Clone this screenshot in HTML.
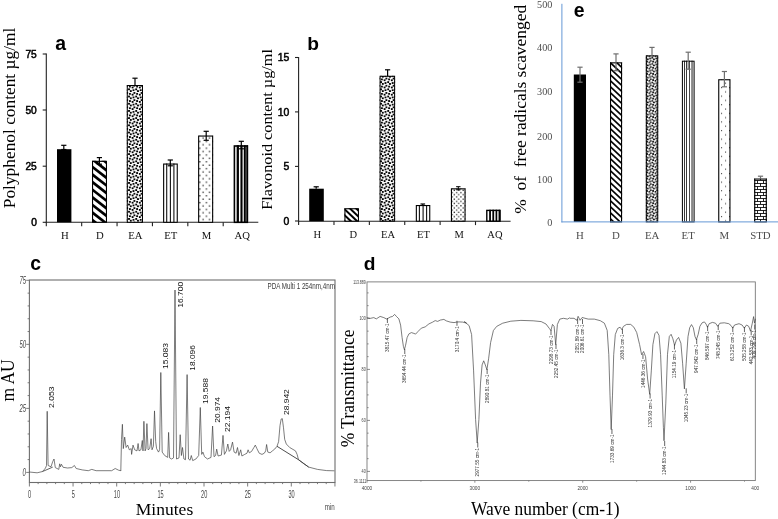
<!DOCTYPE html>
<html><head><meta charset="utf-8"><title>Figure</title>
<style>html,body{margin:0;padding:0;background:#fff;}svg{display:block;filter:blur(0.45px);}</style></head>
<body>
<svg width="778" height="519" viewBox="0 0 778 519">
<rect width="778" height="519" fill="#fff"/>
<defs>
<pattern id="pEA" patternUnits="userSpaceOnUse" width="7.200" height="7.200" patternTransform="translate(0.3,0.2)"><rect width="7.200" height="7.200" fill="#fff"/><rect x="1.72" y="-0.08" width="1.96" height="1.96" rx="0.45" fill="#000"/><rect x="1.72" y="7.12" width="1.96" height="1.96" rx="0.45" fill="#000"/><rect x="-1.88" y="1.72" width="1.96" height="1.96" rx="0.45" fill="#000"/><rect x="5.32" y="1.72" width="1.96" height="1.96" rx="0.45" fill="#000"/><rect x="2.62" y="2.62" width="1.96" height="1.96" rx="0.45" fill="#000"/><rect x="-0.08" y="3.52" width="1.96" height="1.96" rx="0.45" fill="#000"/><rect x="7.12" y="3.52" width="1.96" height="1.96" rx="0.45" fill="#000"/><rect x="3.52" y="-1.88" width="1.96" height="1.96" rx="0.45" fill="#000"/><rect x="3.52" y="5.32" width="1.96" height="1.96" rx="0.45" fill="#000"/><rect x="-0.98" y="-0.98" width="1.96" height="1.96" rx="0.45" fill="#000"/><rect x="-0.98" y="6.22" width="1.96" height="1.96" rx="0.45" fill="#000"/><rect x="6.22" y="-0.98" width="1.96" height="1.96" rx="0.45" fill="#000"/><rect x="6.22" y="6.22" width="1.96" height="1.96" rx="0.45" fill="#000"/></pattern>
<pattern id="pEA2" patternUnits="userSpaceOnUse" width="6.160" height="6.160" patternTransform="translate(0.2,0)"><rect width="6.160" height="6.160" fill="#fff"/><rect x="1.44" y="-0.10" width="1.73" height="1.73" rx="0.39" fill="#000"/><rect x="1.44" y="6.06" width="1.73" height="1.73" rx="0.39" fill="#000"/><rect x="-1.64" y="1.44" width="1.73" height="1.73" rx="0.39" fill="#000"/><rect x="4.52" y="1.44" width="1.73" height="1.73" rx="0.39" fill="#000"/><rect x="2.21" y="2.21" width="1.73" height="1.73" rx="0.39" fill="#000"/><rect x="-0.10" y="2.98" width="1.73" height="1.73" rx="0.39" fill="#000"/><rect x="6.06" y="2.98" width="1.73" height="1.73" rx="0.39" fill="#000"/><rect x="2.98" y="-1.64" width="1.73" height="1.73" rx="0.39" fill="#000"/><rect x="2.98" y="4.52" width="1.73" height="1.73" rx="0.39" fill="#000"/><rect x="-0.87" y="-0.87" width="1.73" height="1.73" rx="0.39" fill="#000"/><rect x="-0.87" y="5.29" width="1.73" height="1.73" rx="0.39" fill="#000"/><rect x="5.29" y="-0.87" width="1.73" height="1.73" rx="0.39" fill="#000"/><rect x="5.29" y="5.29" width="1.73" height="1.73" rx="0.39" fill="#000"/></pattern>
<pattern id="pM" patternUnits="userSpaceOnUse" width="6.5" height="6.8" patternTransform="translate(0.4,0.8)"><rect width="6.5" height="6.8" fill="#fff"/><rect x="0.5" y="0.5" width="1.4" height="1.4" fill="#444"/><rect x="3.75" y="3.9" width="1.4" height="1.4" fill="#444"/></pattern>
<pattern id="pM2" patternUnits="userSpaceOnUse" width="8" height="8.6"><rect width="8" height="8.6" fill="#fff"/><rect x="1" y="1" width="1.1" height="1.1" fill="#444"/><rect x="5" y="5.3" width="1.1" height="1.1" fill="#444"/></pattern>
<pattern id="pM3" patternUnits="userSpaceOnUse" width="4.4" height="4.4"><rect width="4.4" height="4.4" fill="#fff"/><rect x="0.5" y="0.5" width="1.3" height="1.3" fill="#333"/><rect x="2.7" y="2.7" width="1.3" height="1.3" fill="#333"/></pattern>
<pattern id="pBR" patternUnits="userSpaceOnUse" width="6" height="6"><rect width="6" height="6" fill="#fff"/><path d="M0 0.5H6M0 3.5H6M1.5 0.5V3.5M4.5 3.5V6.5" stroke="#000" stroke-width="0.85" fill="none"/></pattern>
</defs>
<line x1="46.30" y1="53.50" x2="46.30" y2="222.80" stroke="#222" stroke-width="1.1" />
<line x1="45.80" y1="222.30" x2="258.30" y2="222.30" stroke="#222" stroke-width="1.1" />
<line x1="42.70" y1="54.00" x2="46.30" y2="54.00" stroke="#222" stroke-width="1.1" />
<text x="36.80" y="57.70" font-size="10.2" font-family="Liberation Sans, sans-serif" text-anchor="end" fill="#000" font-weight="normal" stroke="#000" stroke-width="0.5">75</text>
<line x1="42.70" y1="110.00" x2="46.30" y2="110.00" stroke="#222" stroke-width="1.1" />
<text x="36.80" y="113.70" font-size="10.2" font-family="Liberation Sans, sans-serif" text-anchor="end" fill="#000" font-weight="normal" stroke="#000" stroke-width="0.5">50</text>
<line x1="42.70" y1="166.20" x2="46.30" y2="166.20" stroke="#222" stroke-width="1.1" />
<text x="36.80" y="169.90" font-size="10.2" font-family="Liberation Sans, sans-serif" text-anchor="end" fill="#000" font-weight="normal" stroke="#000" stroke-width="0.5">25</text>
<line x1="42.70" y1="222.30" x2="46.30" y2="222.30" stroke="#222" stroke-width="1.1" />
<text x="36.80" y="226.00" font-size="10.2" font-family="Liberation Sans, sans-serif" text-anchor="end" fill="#000" font-weight="normal" stroke="#000" stroke-width="0.5">0</text>
<line x1="46.30" y1="222.30" x2="46.30" y2="226.20" stroke="#222" stroke-width="1.1" />
<line x1="81.68" y1="222.30" x2="81.68" y2="226.20" stroke="#222" stroke-width="1.1" />
<line x1="117.06" y1="222.30" x2="117.06" y2="226.20" stroke="#222" stroke-width="1.1" />
<line x1="152.44" y1="222.30" x2="152.44" y2="226.20" stroke="#222" stroke-width="1.1" />
<line x1="187.82" y1="222.30" x2="187.82" y2="226.20" stroke="#222" stroke-width="1.1" />
<line x1="223.20" y1="222.30" x2="223.20" y2="226.20" stroke="#222" stroke-width="1.1" />
<text x="64.80" y="239.20" font-size="10.7" font-family="Liberation Serif, serif" text-anchor="middle" fill="#111" font-weight="normal" >H</text>
<text x="99.90" y="239.20" font-size="10.7" font-family="Liberation Serif, serif" text-anchor="middle" fill="#111" font-weight="normal" >D</text>
<text x="135.30" y="239.20" font-size="10.7" font-family="Liberation Serif, serif" text-anchor="middle" fill="#111" font-weight="normal" >EA</text>
<text x="170.70" y="239.20" font-size="10.7" font-family="Liberation Serif, serif" text-anchor="middle" fill="#111" font-weight="normal" >ET</text>
<text x="206.40" y="239.20" font-size="10.7" font-family="Liberation Serif, serif" text-anchor="middle" fill="#111" font-weight="normal" >M</text>
<text x="242.20" y="239.20" font-size="10.7" font-family="Liberation Serif, serif" text-anchor="middle" fill="#111" font-weight="normal" >AQ</text>
<rect x="57.00" y="149.20" width="14.40" height="73.10" fill="#000"/>
<line x1="63.80" y1="145.30" x2="63.80" y2="149.50" stroke="#000" stroke-width="1.2" />
<line x1="61.20" y1="145.30" x2="66.40" y2="145.30" stroke="#000" stroke-width="1.2" />
<line x1="61.20" y1="149.50" x2="66.40" y2="149.50" stroke="#000" stroke-width="1.2" />
<clipPath id="c1"><rect x="92.00" y="160.80" width="15.00" height="61.50"/></clipPath>
<rect x="92.00" y="160.80" width="15.00" height="61.50" fill="#fff"/>
<g clip-path="url(#c1)" stroke="#000" stroke-width="2.7">
<line x1="90.00" y1="142.24" x2="109.00" y2="157.06"/>
<line x1="90.00" y1="149.84" x2="109.00" y2="164.66"/>
<line x1="90.00" y1="157.44" x2="109.00" y2="172.26"/>
<line x1="90.00" y1="165.04" x2="109.00" y2="179.86"/>
<line x1="90.00" y1="172.64" x2="109.00" y2="187.46"/>
<line x1="90.00" y1="180.24" x2="109.00" y2="195.06"/>
<line x1="90.00" y1="187.84" x2="109.00" y2="202.66"/>
<line x1="90.00" y1="195.44" x2="109.00" y2="210.26"/>
<line x1="90.00" y1="203.04" x2="109.00" y2="217.86"/>
<line x1="90.00" y1="210.64" x2="109.00" y2="225.46"/>
<line x1="90.00" y1="218.24" x2="109.00" y2="233.06"/>
</g>
<rect x="92.55" y="161.35" width="13.90" height="60.95" fill="none" stroke="#000" stroke-width="1.1"/>
<line x1="99.40" y1="157.60" x2="99.40" y2="164.20" stroke="#000" stroke-width="1.2" />
<line x1="96.80" y1="157.60" x2="102.00" y2="157.60" stroke="#000" stroke-width="1.2" />
<line x1="96.80" y1="164.20" x2="102.00" y2="164.20" stroke="#000" stroke-width="1.2" />
<clipPath id="c2"><rect x="126.80" y="85.00" width="16.20" height="137.30"/></clipPath>
<rect x="126.80" y="85.00" width="16.20" height="137.30" fill="url(#pEA)"/>
<rect x="127.30" y="85.50" width="15.20" height="136.80" fill="none" stroke="#000" stroke-width="1.0"/>
<line x1="135.00" y1="78.20" x2="135.00" y2="85.50" stroke="#000" stroke-width="1.2" />
<line x1="132.40" y1="78.20" x2="137.60" y2="78.20" stroke="#000" stroke-width="1.2" />
<clipPath id="c3"><rect x="163.10" y="163.50" width="14.70" height="58.80"/></clipPath>
<rect x="163.10" y="163.50" width="14.70" height="58.80" fill="#fff"/>
<line x1="166.70" y1="163.50" x2="166.70" y2="222.30" stroke="#111" stroke-width="1.1"/>
<line x1="170.40" y1="163.50" x2="170.40" y2="222.30" stroke="#111" stroke-width="1.1"/>
<line x1="173.90" y1="163.50" x2="173.90" y2="222.30" stroke="#111" stroke-width="1.1"/>
<rect x="163.65" y="164.05" width="13.60" height="58.25" fill="none" stroke="#000" stroke-width="1.1"/>
<line x1="170.30" y1="160.00" x2="170.30" y2="165.80" stroke="#000" stroke-width="1.2" />
<line x1="167.70" y1="160.00" x2="172.90" y2="160.00" stroke="#000" stroke-width="1.2" />
<line x1="167.70" y1="165.80" x2="172.90" y2="165.80" stroke="#000" stroke-width="1.2" />
<clipPath id="c4"><rect x="198.10" y="135.50" width="15.10" height="86.80"/></clipPath>
<rect x="198.10" y="135.50" width="15.10" height="86.80" fill="url(#pM)"/>
<rect x="198.65" y="136.05" width="14.00" height="86.25" fill="none" stroke="#000" stroke-width="1.1"/>
<line x1="206.20" y1="131.30" x2="206.20" y2="140.30" stroke="#000" stroke-width="1.2" />
<line x1="203.60" y1="131.30" x2="208.80" y2="131.30" stroke="#000" stroke-width="1.2" />
<line x1="203.60" y1="140.30" x2="208.80" y2="140.30" stroke="#000" stroke-width="1.2" />
<clipPath id="c5"><rect x="233.60" y="145.20" width="14.60" height="77.10"/></clipPath>
<rect x="233.60" y="145.20" width="14.60" height="77.10" fill="#fff"/>
<line x1="237.80" y1="145.20" x2="237.80" y2="222.30" stroke="#000" stroke-width="2.3"/>
<line x1="241.50" y1="145.20" x2="241.50" y2="222.30" stroke="#000" stroke-width="2.1"/>
<line x1="244.80" y1="145.20" x2="244.80" y2="222.30" stroke="#000" stroke-width="2.0"/>
<line x1="247.20" y1="145.20" x2="247.20" y2="222.30" stroke="#000" stroke-width="1.6"/>
<rect x="234.40" y="146.00" width="13.00" height="76.30" fill="none" stroke="#000" stroke-width="1.6"/>
<line x1="241.30" y1="141.30" x2="241.30" y2="148.80" stroke="#000" stroke-width="1.2" />
<line x1="238.70" y1="141.30" x2="243.90" y2="141.30" stroke="#000" stroke-width="1.2" />
<line x1="238.70" y1="148.80" x2="243.90" y2="148.80" stroke="#000" stroke-width="1.2" />
<text transform="translate(15.20,208.20) rotate(-90)" font-size="16.6" font-family="Liberation Serif, serif" text-anchor="start" fill="#000" font-weight="normal" textLength="180.5" lengthAdjust="spacingAndGlyphs" >Polyphenol content µg/ml</text>
<text x="55.30" y="49.60" font-size="19.4" font-family="Liberation Sans, sans-serif" text-anchor="start" fill="#000" font-weight="bold" >a</text>
<line x1="298.60" y1="57.00" x2="298.60" y2="221.70" stroke="#222" stroke-width="1.1" />
<line x1="298.10" y1="221.20" x2="510.60" y2="221.20" stroke="#222" stroke-width="1.1" />
<line x1="295.00" y1="57.50" x2="298.60" y2="57.50" stroke="#222" stroke-width="1.1" />
<text x="289.40" y="61.30" font-size="10.4" font-family="Liberation Sans, sans-serif" text-anchor="end" fill="#000" font-weight="normal" stroke="#000" stroke-width="0.5">15</text>
<line x1="295.00" y1="111.90" x2="298.60" y2="111.90" stroke="#222" stroke-width="1.1" />
<text x="289.40" y="115.70" font-size="10.4" font-family="Liberation Sans, sans-serif" text-anchor="end" fill="#000" font-weight="normal" stroke="#000" stroke-width="0.5">10</text>
<line x1="295.00" y1="166.40" x2="298.60" y2="166.40" stroke="#222" stroke-width="1.1" />
<text x="289.40" y="170.20" font-size="10.4" font-family="Liberation Sans, sans-serif" text-anchor="end" fill="#000" font-weight="normal" stroke="#000" stroke-width="0.5">5</text>
<line x1="295.00" y1="221.00" x2="298.60" y2="221.00" stroke="#222" stroke-width="1.1" />
<text x="289.40" y="224.80" font-size="10.4" font-family="Liberation Sans, sans-serif" text-anchor="end" fill="#000" font-weight="normal" stroke="#000" stroke-width="0.5">0</text>
<line x1="298.60" y1="221.20" x2="298.60" y2="225.10" stroke="#222" stroke-width="1.1" />
<line x1="333.98" y1="221.20" x2="333.98" y2="225.10" stroke="#222" stroke-width="1.1" />
<line x1="369.36" y1="221.20" x2="369.36" y2="225.10" stroke="#222" stroke-width="1.1" />
<line x1="404.74" y1="221.20" x2="404.74" y2="225.10" stroke="#222" stroke-width="1.1" />
<line x1="440.12" y1="221.20" x2="440.12" y2="225.10" stroke="#222" stroke-width="1.1" />
<line x1="475.50" y1="221.20" x2="475.50" y2="225.10" stroke="#222" stroke-width="1.1" />
<text x="317.30" y="237.90" font-size="10.5" font-family="Liberation Serif, serif" text-anchor="middle" fill="#111" font-weight="normal" >H</text>
<text x="353.20" y="237.90" font-size="10.5" font-family="Liberation Serif, serif" text-anchor="middle" fill="#111" font-weight="normal" >D</text>
<text x="388.10" y="237.90" font-size="10.5" font-family="Liberation Serif, serif" text-anchor="middle" fill="#111" font-weight="normal" >EA</text>
<text x="423.40" y="237.90" font-size="10.5" font-family="Liberation Serif, serif" text-anchor="middle" fill="#111" font-weight="normal" >ET</text>
<text x="459.20" y="237.90" font-size="10.5" font-family="Liberation Serif, serif" text-anchor="middle" fill="#111" font-weight="normal" >M</text>
<text x="494.90" y="237.90" font-size="10.5" font-family="Liberation Serif, serif" text-anchor="middle" fill="#111" font-weight="normal" >AQ</text>
<rect x="309.20" y="188.70" width="14.60" height="32.50" fill="#000"/>
<line x1="316.20" y1="186.80" x2="316.20" y2="188.80" stroke="#000" stroke-width="1.2" />
<line x1="313.60" y1="186.80" x2="318.80" y2="186.80" stroke="#000" stroke-width="1.2" />
<clipPath id="c6"><rect x="344.40" y="208.20" width="14.60" height="13.00"/></clipPath>
<rect x="344.40" y="208.20" width="14.60" height="13.00" fill="#fff"/>
<g clip-path="url(#c6)" stroke="#000" stroke-width="2.0">
<line x1="342.40" y1="189.50" x2="361.00" y2="207.17"/>
<line x1="342.40" y1="195.40" x2="361.00" y2="213.07"/>
<line x1="342.40" y1="201.30" x2="361.00" y2="218.97"/>
<line x1="342.40" y1="207.20" x2="361.00" y2="224.87"/>
<line x1="342.40" y1="213.10" x2="361.00" y2="230.77"/>
<line x1="342.40" y1="219.00" x2="361.00" y2="236.67"/>
</g>
<rect x="344.95" y="208.75" width="13.50" height="12.45" fill="none" stroke="#000" stroke-width="1.1"/>
<clipPath id="c7"><rect x="379.60" y="75.80" width="15.50" height="145.40"/></clipPath>
<rect x="379.60" y="75.80" width="15.50" height="145.40" fill="url(#pEA)"/>
<rect x="380.10" y="76.30" width="14.50" height="144.90" fill="none" stroke="#000" stroke-width="1.0"/>
<line x1="387.60" y1="69.80" x2="387.60" y2="76.30" stroke="#000" stroke-width="1.2" />
<line x1="385.00" y1="69.80" x2="390.20" y2="69.80" stroke="#000" stroke-width="1.2" />
<clipPath id="c8"><rect x="415.80" y="205.00" width="14.50" height="16.20"/></clipPath>
<rect x="415.80" y="205.00" width="14.50" height="16.20" fill="#fff"/>
<line x1="419.40" y1="205.00" x2="419.40" y2="221.20" stroke="#111" stroke-width="1.1"/>
<line x1="423.10" y1="205.00" x2="423.10" y2="221.20" stroke="#111" stroke-width="1.1"/>
<line x1="426.60" y1="205.00" x2="426.60" y2="221.20" stroke="#111" stroke-width="1.1"/>
<rect x="416.35" y="205.55" width="13.40" height="15.65" fill="none" stroke="#000" stroke-width="1.1"/>
<line x1="422.80" y1="204.00" x2="422.80" y2="205.60" stroke="#000" stroke-width="1.2" />
<line x1="420.50" y1="204.00" x2="425.10" y2="204.00" stroke="#000" stroke-width="1.2" />
<clipPath id="c9"><rect x="450.90" y="188.30" width="14.70" height="32.90"/></clipPath>
<rect x="450.90" y="188.30" width="14.70" height="32.90" fill="url(#pM3)"/>
<rect x="451.45" y="188.85" width="13.60" height="32.35" fill="none" stroke="#000" stroke-width="1.1"/>
<line x1="458.30" y1="186.70" x2="458.30" y2="189.80" stroke="#000" stroke-width="1.0" />
<line x1="456.10" y1="186.70" x2="460.50" y2="186.70" stroke="#000" stroke-width="1.0" />
<line x1="456.10" y1="189.80" x2="460.50" y2="189.80" stroke="#000" stroke-width="1.0" />
<clipPath id="c10"><rect x="486.10" y="209.70" width="14.70" height="11.50"/></clipPath>
<rect x="486.10" y="209.70" width="14.70" height="11.50" fill="#fff"/>
<line x1="490.05" y1="209.70" x2="490.05" y2="221.20" stroke="#000" stroke-width="1.8"/>
<line x1="493.25" y1="209.70" x2="493.25" y2="221.20" stroke="#000" stroke-width="1.8"/>
<line x1="496.40" y1="209.70" x2="496.40" y2="221.20" stroke="#000" stroke-width="1.7"/>
<line x1="499.30" y1="209.70" x2="499.30" y2="221.20" stroke="#000" stroke-width="1.5"/>
<rect x="486.80" y="210.40" width="13.30" height="10.80" fill="none" stroke="#000" stroke-width="1.4"/>
<text transform="translate(272.30,209.70) rotate(-90)" font-size="15.2" font-family="Liberation Serif, serif" text-anchor="start" fill="#000" font-weight="normal" textLength="160.6" lengthAdjust="spacingAndGlyphs" >Flavonoid content µg/ml</text>
<text x="307.30" y="49.70" font-size="19.2" font-family="Liberation Sans, sans-serif" text-anchor="start" fill="#000" font-weight="bold" >b</text>
<text x="552.40" y="8.30" font-size="10.2" font-family="Liberation Serif, serif" text-anchor="end" fill="#4c4c4c" font-weight="normal" >500</text>
<text x="552.40" y="51.40" font-size="10.2" font-family="Liberation Serif, serif" text-anchor="end" fill="#4c4c4c" font-weight="normal" >400</text>
<text x="552.40" y="94.90" font-size="10.2" font-family="Liberation Serif, serif" text-anchor="end" fill="#4c4c4c" font-weight="normal" >300</text>
<text x="552.40" y="139.50" font-size="10.2" font-family="Liberation Serif, serif" text-anchor="end" fill="#4c4c4c" font-weight="normal" >200</text>
<text x="552.40" y="183.00" font-size="10.2" font-family="Liberation Serif, serif" text-anchor="end" fill="#4c4c4c" font-weight="normal" >100</text>
<text x="552.40" y="225.90" font-size="10.2" font-family="Liberation Serif, serif" text-anchor="end" fill="#4c4c4c" font-weight="normal" >0</text>
<text x="579.90" y="239.30" font-size="10.8" font-family="Liberation Serif, serif" text-anchor="middle" fill="#4c4c4c" font-weight="normal" >H</text>
<text x="616.00" y="239.30" font-size="10.8" font-family="Liberation Serif, serif" text-anchor="middle" fill="#4c4c4c" font-weight="normal" >D</text>
<text x="652.10" y="239.30" font-size="10.8" font-family="Liberation Serif, serif" text-anchor="middle" fill="#4c4c4c" font-weight="normal" >EA</text>
<text x="688.20" y="239.30" font-size="10.8" font-family="Liberation Serif, serif" text-anchor="middle" fill="#4c4c4c" font-weight="normal" >ET</text>
<text x="724.30" y="239.30" font-size="10.8" font-family="Liberation Serif, serif" text-anchor="middle" fill="#4c4c4c" font-weight="normal" >M</text>
<text x="760.40" y="239.30" font-size="10.8" font-family="Liberation Serif, serif" text-anchor="middle" fill="#4c4c4c" font-weight="normal" >STD</text>
<rect x="573.80" y="74.50" width="12.20" height="147.40" fill="#000"/>
<line x1="580.00" y1="67.20" x2="580.00" y2="82.20" stroke="#6e6e6e" stroke-width="1.2" />
<line x1="577.40" y1="67.20" x2="582.60" y2="67.20" stroke="#6e6e6e" stroke-width="1.2" />
<line x1="577.40" y1="82.20" x2="582.60" y2="82.20" stroke="#6e6e6e" stroke-width="1.2" />
<clipPath id="c11"><rect x="610.00" y="62.30" width="12.10" height="159.60"/></clipPath>
<rect x="610.00" y="62.30" width="12.10" height="159.60" fill="#fff"/>
<g clip-path="url(#c11)" stroke="#000" stroke-width="1.65">
<line x1="608.00" y1="42.40" x2="624.10" y2="57.70"/>
<line x1="608.00" y1="48.40" x2="624.10" y2="63.70"/>
<line x1="608.00" y1="54.40" x2="624.10" y2="69.70"/>
<line x1="608.00" y1="60.40" x2="624.10" y2="75.70"/>
<line x1="608.00" y1="66.40" x2="624.10" y2="81.70"/>
<line x1="608.00" y1="72.40" x2="624.10" y2="87.70"/>
<line x1="608.00" y1="78.40" x2="624.10" y2="93.70"/>
<line x1="608.00" y1="84.40" x2="624.10" y2="99.70"/>
<line x1="608.00" y1="90.40" x2="624.10" y2="105.70"/>
<line x1="608.00" y1="96.40" x2="624.10" y2="111.70"/>
<line x1="608.00" y1="102.40" x2="624.10" y2="117.70"/>
<line x1="608.00" y1="108.40" x2="624.10" y2="123.70"/>
<line x1="608.00" y1="114.40" x2="624.10" y2="129.70"/>
<line x1="608.00" y1="120.40" x2="624.10" y2="135.70"/>
<line x1="608.00" y1="126.40" x2="624.10" y2="141.70"/>
<line x1="608.00" y1="132.40" x2="624.10" y2="147.70"/>
<line x1="608.00" y1="138.40" x2="624.10" y2="153.70"/>
<line x1="608.00" y1="144.40" x2="624.10" y2="159.70"/>
<line x1="608.00" y1="150.40" x2="624.10" y2="165.70"/>
<line x1="608.00" y1="156.40" x2="624.10" y2="171.70"/>
<line x1="608.00" y1="162.40" x2="624.10" y2="177.70"/>
<line x1="608.00" y1="168.40" x2="624.10" y2="183.70"/>
<line x1="608.00" y1="174.40" x2="624.10" y2="189.70"/>
<line x1="608.00" y1="180.40" x2="624.10" y2="195.70"/>
<line x1="608.00" y1="186.40" x2="624.10" y2="201.70"/>
<line x1="608.00" y1="192.40" x2="624.10" y2="207.70"/>
<line x1="608.00" y1="198.40" x2="624.10" y2="213.70"/>
<line x1="608.00" y1="204.40" x2="624.10" y2="219.70"/>
<line x1="608.00" y1="210.40" x2="624.10" y2="225.70"/>
<line x1="608.00" y1="216.40" x2="624.10" y2="231.70"/>
<line x1="608.00" y1="222.40" x2="624.10" y2="237.70"/>
</g>
<rect x="610.55" y="62.85" width="11.00" height="159.05" fill="none" stroke="#000" stroke-width="1.1"/>
<line x1="616.00" y1="53.90" x2="616.00" y2="70.70" stroke="#6e6e6e" stroke-width="1.2" />
<line x1="613.40" y1="53.90" x2="618.60" y2="53.90" stroke="#6e6e6e" stroke-width="1.2" />
<line x1="613.40" y1="70.70" x2="618.60" y2="70.70" stroke="#6e6e6e" stroke-width="1.2" />
<clipPath id="c12"><rect x="645.80" y="55.40" width="12.40" height="166.50"/></clipPath>
<rect x="645.80" y="55.40" width="12.40" height="166.50" fill="url(#pEA2)"/>
<rect x="646.30" y="55.90" width="11.40" height="166.00" fill="none" stroke="#000" stroke-width="1.0"/>
<line x1="652.00" y1="47.40" x2="652.00" y2="55.80" stroke="#6e6e6e" stroke-width="1.2" />
<line x1="649.40" y1="47.40" x2="654.60" y2="47.40" stroke="#6e6e6e" stroke-width="1.2" />
<clipPath id="c13"><rect x="681.90" y="60.70" width="12.70" height="161.20"/></clipPath>
<rect x="681.90" y="60.70" width="12.70" height="161.20" fill="#fff"/>
<line x1="684.50" y1="60.70" x2="684.50" y2="221.90" stroke="#222" stroke-width="0.9"/>
<line x1="686.50" y1="60.70" x2="686.50" y2="221.90" stroke="#222" stroke-width="0.9"/>
<line x1="689.50" y1="60.70" x2="689.50" y2="221.90" stroke="#333" stroke-width="0.9"/>
<line x1="692.10" y1="60.70" x2="692.10" y2="221.90" stroke="#888" stroke-width="2.0"/>
<rect x="682.40" y="61.20" width="11.70" height="160.70" fill="none" stroke="#000" stroke-width="1.0"/>
<line x1="688.20" y1="52.20" x2="688.20" y2="69.20" stroke="#6e6e6e" stroke-width="1.2" />
<line x1="685.60" y1="52.20" x2="690.80" y2="52.20" stroke="#6e6e6e" stroke-width="1.2" />
<line x1="685.60" y1="69.20" x2="690.80" y2="69.20" stroke="#6e6e6e" stroke-width="1.2" />
<clipPath id="c14"><rect x="718.20" y="79.20" width="12.30" height="142.70"/></clipPath>
<rect x="718.20" y="79.20" width="12.30" height="142.70" fill="url(#pM2)"/>
<rect x="718.75" y="79.75" width="11.20" height="142.15" fill="none" stroke="#000" stroke-width="1.1"/>
<line x1="724.40" y1="71.50" x2="724.40" y2="86.80" stroke="#6e6e6e" stroke-width="1.2" />
<line x1="721.80" y1="71.50" x2="727.00" y2="71.50" stroke="#6e6e6e" stroke-width="1.2" />
<line x1="721.80" y1="86.80" x2="727.00" y2="86.80" stroke="#6e6e6e" stroke-width="1.2" />
<clipPath id="c15"><rect x="754.20" y="178.50" width="12.60" height="43.40"/></clipPath>
<rect x="754.20" y="178.50" width="12.60" height="43.40" fill="url(#pBR)"/>
<rect x="754.75" y="179.05" width="11.50" height="42.85" fill="none" stroke="#000" stroke-width="1.1"/>
<line x1="760.50" y1="176.20" x2="760.50" y2="178.60" stroke="#6e6e6e" stroke-width="1.2" />
<line x1="757.90" y1="176.20" x2="763.10" y2="176.20" stroke="#6e6e6e" stroke-width="1.2" />
<line x1="561.90" y1="3.80" x2="561.90" y2="222.40" stroke="#6597d5" stroke-width="1.0" />
<line x1="561.40" y1="221.90" x2="778.00" y2="221.90" stroke="#6597d5" stroke-width="1.0" />
<text transform="translate(526.00,213.80) rotate(-90)" font-size="15.9" font-family="Liberation Serif, serif" text-anchor="start" fill="#000" font-weight="normal" textLength="209" lengthAdjust="spacingAndGlyphs" >%&#160; of&#160; free radicals scavenged</text>
<text x="573.80" y="16.80" font-size="19.4" font-family="Liberation Sans, sans-serif" text-anchor="start" fill="#000" font-weight="bold" >e</text>
<rect x="29.4" y="280.0" width="305.6" height="202.5" fill="none" stroke="#6e6e6e" stroke-width="1.1"/>
<line x1="26.20" y1="472.40" x2="29.40" y2="472.40" stroke="#6e6e6e" stroke-width="0.9" />
<line x1="27.60" y1="459.59" x2="29.40" y2="459.59" stroke="#6e6e6e" stroke-width="0.9" />
<line x1="27.60" y1="446.79" x2="29.40" y2="446.79" stroke="#6e6e6e" stroke-width="0.9" />
<line x1="27.60" y1="433.98" x2="29.40" y2="433.98" stroke="#6e6e6e" stroke-width="0.9" />
<line x1="27.60" y1="421.18" x2="29.40" y2="421.18" stroke="#6e6e6e" stroke-width="0.9" />
<line x1="26.20" y1="408.38" x2="29.40" y2="408.38" stroke="#6e6e6e" stroke-width="0.9" />
<line x1="27.60" y1="395.57" x2="29.40" y2="395.57" stroke="#6e6e6e" stroke-width="0.9" />
<line x1="27.60" y1="382.76" x2="29.40" y2="382.76" stroke="#6e6e6e" stroke-width="0.9" />
<line x1="27.60" y1="369.96" x2="29.40" y2="369.96" stroke="#6e6e6e" stroke-width="0.9" />
<line x1="27.60" y1="357.15" x2="29.40" y2="357.15" stroke="#6e6e6e" stroke-width="0.9" />
<line x1="26.20" y1="344.35" x2="29.40" y2="344.35" stroke="#6e6e6e" stroke-width="0.9" />
<line x1="27.60" y1="331.54" x2="29.40" y2="331.54" stroke="#6e6e6e" stroke-width="0.9" />
<line x1="27.60" y1="318.74" x2="29.40" y2="318.74" stroke="#6e6e6e" stroke-width="0.9" />
<line x1="27.60" y1="305.93" x2="29.40" y2="305.93" stroke="#6e6e6e" stroke-width="0.9" />
<line x1="27.60" y1="293.13" x2="29.40" y2="293.13" stroke="#6e6e6e" stroke-width="0.9" />
<line x1="26.20" y1="280.32" x2="29.40" y2="280.32" stroke="#6e6e6e" stroke-width="0.9" />
<text x="26.00" y="476.10" font-size="10.2" font-family="Liberation Sans, sans-serif" text-anchor="end" fill="#444" font-weight="normal" textLength="3.4000000000000004" lengthAdjust="spacingAndGlyphs" font-style="italic">0</text>
<text x="26.00" y="412.07" font-size="10.2" font-family="Liberation Sans, sans-serif" text-anchor="end" fill="#444" font-weight="normal" textLength="6.6000000000000005" lengthAdjust="spacingAndGlyphs" font-style="italic">25</text>
<text x="26.00" y="348.05" font-size="10.2" font-family="Liberation Sans, sans-serif" text-anchor="end" fill="#444" font-weight="normal" textLength="6.6000000000000005" lengthAdjust="spacingAndGlyphs" font-style="italic">50</text>
<text x="26.00" y="284.02" font-size="10.2" font-family="Liberation Sans, sans-serif" text-anchor="end" fill="#444" font-weight="normal" textLength="6.6000000000000005" lengthAdjust="spacingAndGlyphs" font-style="italic">75</text>
<line x1="29.40" y1="482.50" x2="29.40" y2="486.50" stroke="#6e6e6e" stroke-width="0.9" />
<line x1="38.13" y1="482.50" x2="38.13" y2="484.10" stroke="#6e6e6e" stroke-width="0.9" />
<line x1="46.86" y1="482.50" x2="46.86" y2="484.10" stroke="#6e6e6e" stroke-width="0.9" />
<line x1="55.59" y1="482.50" x2="55.59" y2="484.10" stroke="#6e6e6e" stroke-width="0.9" />
<line x1="64.32" y1="482.50" x2="64.32" y2="484.10" stroke="#6e6e6e" stroke-width="0.9" />
<line x1="73.05" y1="482.50" x2="73.05" y2="486.50" stroke="#6e6e6e" stroke-width="0.9" />
<line x1="81.78" y1="482.50" x2="81.78" y2="484.10" stroke="#6e6e6e" stroke-width="0.9" />
<line x1="90.51" y1="482.50" x2="90.51" y2="484.10" stroke="#6e6e6e" stroke-width="0.9" />
<line x1="99.24" y1="482.50" x2="99.24" y2="484.10" stroke="#6e6e6e" stroke-width="0.9" />
<line x1="107.97" y1="482.50" x2="107.97" y2="484.10" stroke="#6e6e6e" stroke-width="0.9" />
<line x1="116.70" y1="482.50" x2="116.70" y2="486.50" stroke="#6e6e6e" stroke-width="0.9" />
<line x1="125.43" y1="482.50" x2="125.43" y2="484.10" stroke="#6e6e6e" stroke-width="0.9" />
<line x1="134.16" y1="482.50" x2="134.16" y2="484.10" stroke="#6e6e6e" stroke-width="0.9" />
<line x1="142.89" y1="482.50" x2="142.89" y2="484.10" stroke="#6e6e6e" stroke-width="0.9" />
<line x1="151.62" y1="482.50" x2="151.62" y2="484.10" stroke="#6e6e6e" stroke-width="0.9" />
<line x1="160.35" y1="482.50" x2="160.35" y2="486.50" stroke="#6e6e6e" stroke-width="0.9" />
<line x1="169.08" y1="482.50" x2="169.08" y2="484.10" stroke="#6e6e6e" stroke-width="0.9" />
<line x1="177.81" y1="482.50" x2="177.81" y2="484.10" stroke="#6e6e6e" stroke-width="0.9" />
<line x1="186.54" y1="482.50" x2="186.54" y2="484.10" stroke="#6e6e6e" stroke-width="0.9" />
<line x1="195.27" y1="482.50" x2="195.27" y2="484.10" stroke="#6e6e6e" stroke-width="0.9" />
<line x1="204.00" y1="482.50" x2="204.00" y2="486.50" stroke="#6e6e6e" stroke-width="0.9" />
<line x1="212.73" y1="482.50" x2="212.73" y2="484.10" stroke="#6e6e6e" stroke-width="0.9" />
<line x1="221.46" y1="482.50" x2="221.46" y2="484.10" stroke="#6e6e6e" stroke-width="0.9" />
<line x1="230.19" y1="482.50" x2="230.19" y2="484.10" stroke="#6e6e6e" stroke-width="0.9" />
<line x1="238.92" y1="482.50" x2="238.92" y2="484.10" stroke="#6e6e6e" stroke-width="0.9" />
<line x1="247.65" y1="482.50" x2="247.65" y2="486.50" stroke="#6e6e6e" stroke-width="0.9" />
<line x1="256.38" y1="482.50" x2="256.38" y2="484.10" stroke="#6e6e6e" stroke-width="0.9" />
<line x1="265.11" y1="482.50" x2="265.11" y2="484.10" stroke="#6e6e6e" stroke-width="0.9" />
<line x1="273.84" y1="482.50" x2="273.84" y2="484.10" stroke="#6e6e6e" stroke-width="0.9" />
<line x1="282.57" y1="482.50" x2="282.57" y2="484.10" stroke="#6e6e6e" stroke-width="0.9" />
<line x1="291.30" y1="482.50" x2="291.30" y2="486.50" stroke="#6e6e6e" stroke-width="0.9" />
<line x1="300.03" y1="482.50" x2="300.03" y2="484.10" stroke="#6e6e6e" stroke-width="0.9" />
<line x1="308.76" y1="482.50" x2="308.76" y2="484.10" stroke="#6e6e6e" stroke-width="0.9" />
<line x1="317.49" y1="482.50" x2="317.49" y2="484.10" stroke="#6e6e6e" stroke-width="0.9" />
<line x1="326.22" y1="482.50" x2="326.22" y2="484.10" stroke="#6e6e6e" stroke-width="0.9" />
<line x1="334.95" y1="482.50" x2="334.95" y2="486.50" stroke="#6e6e6e" stroke-width="0.9" />
<text x="29.60" y="498.40" font-size="10.2" font-family="Liberation Sans, sans-serif" text-anchor="middle" fill="#444" font-weight="normal" textLength="3.1" lengthAdjust="spacingAndGlyphs">0</text>
<text x="73.25" y="498.40" font-size="10.2" font-family="Liberation Sans, sans-serif" text-anchor="middle" fill="#444" font-weight="normal" textLength="3.1" lengthAdjust="spacingAndGlyphs">5</text>
<text x="116.90" y="498.40" font-size="10.2" font-family="Liberation Sans, sans-serif" text-anchor="middle" fill="#444" font-weight="normal" textLength="6.2" lengthAdjust="spacingAndGlyphs">10</text>
<text x="160.55" y="498.40" font-size="10.2" font-family="Liberation Sans, sans-serif" text-anchor="middle" fill="#444" font-weight="normal" textLength="6.2" lengthAdjust="spacingAndGlyphs">15</text>
<text x="204.20" y="498.40" font-size="10.2" font-family="Liberation Sans, sans-serif" text-anchor="middle" fill="#444" font-weight="normal" textLength="6.2" lengthAdjust="spacingAndGlyphs">20</text>
<text x="247.85" y="498.40" font-size="10.2" font-family="Liberation Sans, sans-serif" text-anchor="middle" fill="#444" font-weight="normal" textLength="6.2" lengthAdjust="spacingAndGlyphs">25</text>
<text x="291.50" y="498.40" font-size="10.2" font-family="Liberation Sans, sans-serif" text-anchor="middle" fill="#444" font-weight="normal" textLength="6.2" lengthAdjust="spacingAndGlyphs">30</text>
<text x="334.80" y="509.80" font-size="9" font-family="Liberation Sans, sans-serif" text-anchor="end" fill="#444" font-weight="normal" textLength="10" lengthAdjust="spacingAndGlyphs">min</text>
<text x="334.90" y="288.80" font-size="9.8" font-family="Liberation Sans, sans-serif" text-anchor="end" fill="#3a3a3a" font-weight="normal" textLength="67.4" lengthAdjust="spacingAndGlyphs">PDA Multi 1 254nm,4nm</text>
<path d="M29.3 472.0 L37.1 472.8 L42.3 471.6 L44.4 469.4 L45.5 468.0 L46.5 465.5 L47.2 411.3 L48.1 465.5 L51.0 466.8 L52.7 461.6 L54.0 459.0 L55.3 467.6 L58.8 469.4 L59.7 463.8 L60.5 466.8 L61.4 464.2 L63.1 467.3 L67.5 468.0 L71.8 467.6 L74.4 465.5 L76.2 468.5 L82.2 469.9 L88.3 470.7 L91.8 469.4 L96.1 470.7 L111.7 470.7 L115.2 468.5 L118.6 470.2 L120.7 470.7 L120.8 471.0 L121.5 439.4 L122.4 424.3 L123.3 448.6 L124.7 437.1 L126.1 447.5 L127.7 445.1 L129.3 449.8 L131.2 448.6 L131.6 454.4 L133.0 445.1 L134.7 449.8 L137.0 450.9 L138.1 443.5 L139.0 450.9 L140.9 449.8 L142.3 440.5 L143.0 450.9 L143.9 421.3 L145.1 450.9 L146.0 448.6 L146.9 423.6 L148.1 449.8 L149.7 448.6 L151.1 438.7 L152.0 449.8 L153.4 446.3 L154.5 410.9 L155.7 441.7 L156.6 448.6 L158.5 452.1 L159.6 449.8 L160.8 372.5 L162.2 452.1 L164.7 455.5 L167.7 457.4 L168.6 432.4 L169.6 457.9 L171.6 459.0 L173.5 457.9 L175.0 290.0 L176.5 459.0 L179.0 457.9 L180.2 434.7 L181.4 455.5 L182.5 447.5 L183.9 459.0 L185.5 459.7 L187.1 374.6 L188.5 459.0 L190.1 460.2 L191.3 455.5 L192.7 460.6 L195.9 459.0 L198.7 455.5 L200.3 407.5 L201.7 454.4 L202.9 452.1 L204.5 456.7 L207.5 459.0 L211.0 457.4 L212.6 426.0 L214.0 456.7 L215.6 455.5 L216.7 449.1 L218.1 456.0 L221.4 455.1 L223.0 435.4 L224.4 454.4 L226.4 450.9 L227.8 444.0 L229.2 451.4 L230.6 449.8 L232.5 442.1 L234.1 452.1 L236.1 453.2 L237.5 447.5 L238.9 455.5 L240.7 449.8 L241.9 456.0 L244.7 454.4 L247.0 453.2 L248.1 449.8 L249.3 452.8 L251.6 451.4 L253.9 447.5 L255.3 445.1 L256.9 448.6 L259.2 453.2 L262.0 454.4 L264.3 453.2 L265.7 450.9 L266.6 444.5 L267.8 452.1 L270.1 452.8 L272.4 450.9 L274.7 449.1 L277.0 446.3 L278.6 441.7 L280.0 425.5 L281.2 419.0 L282.3 418.6 L283.5 427.8 L284.7 439.4 L286.3 444.0 L289.7 447.5 L295.5 450.9 L297.1 454.4 L298.5 459.7 L303.6 463.6 L308.7 467.1 L317.5 469.4 L326.7 470.6 L334.4 470.8" fill="none" stroke="#404040" stroke-width="0.68" stroke-linejoin="round"/>
<line x1="42.34" y1="471.61" x2="52.74" y2="467.11" stroke="#3a3a3a" stroke-width="0.8" />
<path d="M277.0 446.3 L298.5 459.7 L308.7 467.1" fill="none" stroke="#3a3a3a" stroke-width="0.9"/>
<text transform="translate(54.40,408.00) rotate(-90)" font-size="8" font-family="Liberation Sans, sans-serif" text-anchor="start" fill="#111" font-weight="normal" textLength="21.5" lengthAdjust="spacingAndGlyphs" >2.053</text>
<text transform="translate(168.30,369.00) rotate(-90)" font-size="8" font-family="Liberation Sans, sans-serif" text-anchor="start" fill="#111" font-weight="normal" textLength="26" lengthAdjust="spacingAndGlyphs" >15.083</text>
<text transform="translate(182.70,307.70) rotate(-90)" font-size="8" font-family="Liberation Sans, sans-serif" text-anchor="start" fill="#111" font-weight="normal" textLength="26" lengthAdjust="spacingAndGlyphs" >16.700</text>
<text transform="translate(194.80,370.70) rotate(-90)" font-size="8" font-family="Liberation Sans, sans-serif" text-anchor="start" fill="#111" font-weight="normal" textLength="25.5" lengthAdjust="spacingAndGlyphs" >18.096</text>
<text transform="translate(207.60,404.00) rotate(-90)" font-size="8" font-family="Liberation Sans, sans-serif" text-anchor="start" fill="#111" font-weight="normal" textLength="26" lengthAdjust="spacingAndGlyphs" >19.588</text>
<text transform="translate(219.80,422.70) rotate(-90)" font-size="8" font-family="Liberation Sans, sans-serif" text-anchor="start" fill="#111" font-weight="normal" textLength="25.7" lengthAdjust="spacingAndGlyphs" >20.974</text>
<text transform="translate(230.00,432.00) rotate(-90)" font-size="8" font-family="Liberation Sans, sans-serif" text-anchor="start" fill="#111" font-weight="normal" textLength="26" lengthAdjust="spacingAndGlyphs" >22.194</text>
<text transform="translate(289.40,415.00) rotate(-90)" font-size="8" font-family="Liberation Sans, sans-serif" text-anchor="start" fill="#111" font-weight="normal" textLength="25.8" lengthAdjust="spacingAndGlyphs" >28.942</text>
<text transform="translate(13.50,401.60) rotate(-90)" font-size="17.8" font-family="Liberation Serif, serif" text-anchor="start" fill="#000" font-weight="normal" textLength="42.3" lengthAdjust="spacingAndGlyphs" >m AU</text>
<text x="135.80" y="514.60" font-size="17.6" font-family="Liberation Serif, serif" text-anchor="start" fill="#000" font-weight="normal" textLength="57.4" lengthAdjust="spacingAndGlyphs">Minutes</text>
<text x="30.20" y="270.00" font-size="19.4" font-family="Liberation Sans, sans-serif" text-anchor="start" fill="#000" font-weight="bold" >c</text>
<rect x="367.0" y="281.9" width="388.29999999999995" height="198.70000000000005" fill="none" stroke="#707070" stroke-width="0.85"/>
<line x1="367.00" y1="471.40" x2="370.00" y2="471.40" stroke="#6e6e6e" stroke-width="0.8" />
<line x1="367.00" y1="458.65" x2="368.60" y2="458.65" stroke="#6e6e6e" stroke-width="0.8" />
<line x1="367.00" y1="445.90" x2="368.60" y2="445.90" stroke="#6e6e6e" stroke-width="0.8" />
<line x1="367.00" y1="433.15" x2="368.60" y2="433.15" stroke="#6e6e6e" stroke-width="0.8" />
<line x1="367.00" y1="420.40" x2="370.00" y2="420.40" stroke="#6e6e6e" stroke-width="0.8" />
<line x1="367.00" y1="407.65" x2="368.60" y2="407.65" stroke="#6e6e6e" stroke-width="0.8" />
<line x1="367.00" y1="394.90" x2="368.60" y2="394.90" stroke="#6e6e6e" stroke-width="0.8" />
<line x1="367.00" y1="382.15" x2="368.60" y2="382.15" stroke="#6e6e6e" stroke-width="0.8" />
<line x1="367.00" y1="369.40" x2="370.00" y2="369.40" stroke="#6e6e6e" stroke-width="0.8" />
<line x1="367.00" y1="356.65" x2="368.60" y2="356.65" stroke="#6e6e6e" stroke-width="0.8" />
<line x1="367.00" y1="343.90" x2="368.60" y2="343.90" stroke="#6e6e6e" stroke-width="0.8" />
<line x1="367.00" y1="331.15" x2="368.60" y2="331.15" stroke="#6e6e6e" stroke-width="0.8" />
<line x1="367.00" y1="318.40" x2="370.00" y2="318.40" stroke="#6e6e6e" stroke-width="0.8" />
<line x1="367.00" y1="305.65" x2="368.60" y2="305.65" stroke="#6e6e6e" stroke-width="0.8" />
<line x1="367.00" y1="292.90" x2="368.60" y2="292.90" stroke="#6e6e6e" stroke-width="0.8" />
<line x1="367.00" y1="480.60" x2="367.00" y2="482.70" stroke="#6e6e6e" stroke-width="0.8" />
<line x1="420.93" y1="480.60" x2="420.93" y2="481.65" stroke="#6e6e6e" stroke-width="0.8" />
<line x1="474.86" y1="480.60" x2="474.86" y2="482.70" stroke="#6e6e6e" stroke-width="0.8" />
<line x1="528.79" y1="480.60" x2="528.79" y2="481.65" stroke="#6e6e6e" stroke-width="0.8" />
<line x1="582.72" y1="480.60" x2="582.72" y2="482.70" stroke="#6e6e6e" stroke-width="0.8" />
<line x1="636.65" y1="480.60" x2="636.65" y2="481.65" stroke="#6e6e6e" stroke-width="0.8" />
<line x1="690.58" y1="480.60" x2="690.58" y2="482.70" stroke="#6e6e6e" stroke-width="0.8" />
<line x1="744.51" y1="480.60" x2="744.51" y2="481.65" stroke="#6e6e6e" stroke-width="0.8" />
<text x="365.80" y="283.80" font-size="5.2" font-family="Liberation Sans, sans-serif" text-anchor="end" fill="#444" font-weight="normal" textLength="12.6" lengthAdjust="spacingAndGlyphs">113.889</text>
<text x="365.80" y="320.30" font-size="5.2" font-family="Liberation Sans, sans-serif" text-anchor="end" fill="#444" font-weight="normal" textLength="6.3" lengthAdjust="spacingAndGlyphs">100</text>
<text x="365.80" y="371.30" font-size="5.2" font-family="Liberation Sans, sans-serif" text-anchor="end" fill="#444" font-weight="normal" textLength="4.2" lengthAdjust="spacingAndGlyphs">80</text>
<text x="365.80" y="422.30" font-size="5.2" font-family="Liberation Sans, sans-serif" text-anchor="end" fill="#444" font-weight="normal" textLength="4.2" lengthAdjust="spacingAndGlyphs">60</text>
<text x="365.80" y="473.30" font-size="5.2" font-family="Liberation Sans, sans-serif" text-anchor="end" fill="#444" font-weight="normal" textLength="4.2" lengthAdjust="spacingAndGlyphs">40</text>
<text x="366.40" y="482.60" font-size="5.2" font-family="Liberation Sans, sans-serif" text-anchor="end" fill="#444" font-weight="normal" textLength="12.6" lengthAdjust="spacingAndGlyphs">36.1111</text>
<text x="367.00" y="489.50" font-size="5.4" font-family="Liberation Sans, sans-serif" text-anchor="middle" fill="#444" font-weight="normal" textLength="10.5" lengthAdjust="spacingAndGlyphs">4000</text>
<text x="474.86" y="489.50" font-size="5.4" font-family="Liberation Sans, sans-serif" text-anchor="middle" fill="#444" font-weight="normal" textLength="10.5" lengthAdjust="spacingAndGlyphs">3000</text>
<text x="582.72" y="489.50" font-size="5.4" font-family="Liberation Sans, sans-serif" text-anchor="middle" fill="#444" font-weight="normal" textLength="10.5" lengthAdjust="spacingAndGlyphs">2000</text>
<text x="690.58" y="489.50" font-size="5.4" font-family="Liberation Sans, sans-serif" text-anchor="middle" fill="#444" font-weight="normal" textLength="10.5" lengthAdjust="spacingAndGlyphs">1000</text>
<text x="755.30" y="489.50" font-size="5.4" font-family="Liberation Sans, sans-serif" text-anchor="middle" fill="#444" font-weight="normal" textLength="7.9" lengthAdjust="spacingAndGlyphs">400</text>
<path d="M366.8 317.6 L370.1 318.4 L373.8 317.6 L376.3 318.9 L380.1 316.4 L383.8 317.6 L386.8 319.1 L390.1 317.1 L392.6 316.4 L394.6 314.4 L396.4 316.4 L398.9 318.9 L400.6 325.1 L402.1 337.6 L403.4 346.4 L404.4 349.7 L405.6 345.2 L407.1 337.6 L408.9 333.9 L411.4 332.6 L413.9 333.4 L415.6 334.1 L418.1 331.4 L421.4 328.1 L425.2 326.9 L428.9 323.9 L432.7 322.1 L435.2 320.6 L437.7 321.4 L440.2 320.1 L443.9 319.4 L446.4 320.9 L450.2 322.1 L454.0 322.6 L456.5 322.1 L459.0 321.9 L462.7 322.1 L466.5 323.1 L464.3 321.6 L469.1 325.6 L471.6 334.5 L473.6 370.9 L475.6 419.5 L477.2 443.0 L478.9 419.5 L480.5 383.1 L482.1 364.9 L483.7 360.8 L485.3 364.9 L486.9 369.7 L488.6 358.8 L490.6 342.6 L493.4 330.5 L496.7 326.4 L502.7 323.2 L510.8 321.2 L520.9 320.4 L533.1 320.8 L541.2 321.6 L546.0 324.0 L549.3 328.4 L550.9 330.5 L552.5 324.4 L554.1 326.4 L555.7 344.6 L557.4 324.4 L559.8 319.1 L563.4 318.3 L567.5 319.1 L569.5 317.9 L570.0 318.3 L574.0 318.3 L576.9 320.3 L578.1 316.3 L580.1 320.3 L582.1 317.5 L588.2 319.1 L594.3 319.1 L600.3 320.7 L604.4 323.2 L607.2 330.4 L608.8 354.7 L610.0 395.1 L611.2 429.5 L612.5 395.1 L613.7 354.7 L615.3 334.5 L617.7 328.4 L620.1 327.2 L621.8 329.6 L623.4 326.4 L626.6 324.4 L630.7 324.4 L633.9 327.2 L636.7 332.5 L639.6 344.6 L641.6 354.7 L643.6 351.5 L645.6 356.7 L647.6 379.0 L649.7 394.3 L651.3 370.9 L652.9 344.6 L654.9 333.7 L656.9 331.6 L659.0 335.3 L660.6 354.7 L662.2 395.1 L663.4 427.5 L664.0 440.8 L665.8 403.1 L667.5 354.3 L669.3 336.5 L671.1 334.3 L672.9 338.8 L674.6 345.4 L676.4 340.1 L678.6 337.4 L680.9 343.2 L682.6 363.2 L684.4 388.9 L686.2 363.2 L688.0 336.5 L689.7 327.7 L691.5 324.6 L693.3 327.7 L695.0 336.5 L696.4 339.7 L698.2 334.3 L699.9 326.3 L702.1 322.8 L704.4 321.9 L706.1 324.1 L707.5 327.2 L709.2 323.7 L712.4 322.4 L715.5 323.2 L717.7 326.3 L719.9 323.2 L724.3 322.8 L728.8 323.7 L731.0 325.5 L732.8 328.1 L734.5 325.0 L739.0 323.7 L742.1 325.0 L744.3 328.1 L746.5 325.0 L748.7 326.3 L750.5 331.2 L752.3 323.2 L753.6 316.6 L754.5 323.2 L755.4 318.8" fill="none" stroke="#404040" stroke-width="0.68" stroke-linejoin="round"/>
<line x1="387.40" y1="318.00" x2="387.40" y2="323.00" stroke="#222" stroke-width="0.7" />
<text transform="translate(389.00,323.30) rotate(-90)" font-size="4.7" font-family="Liberation Sans, sans-serif" text-anchor="end" fill="#333" font-weight="normal" >3815.47 cm-1</text>
<line x1="404.77" y1="349.00" x2="404.77" y2="354.00" stroke="#222" stroke-width="0.7" />
<text transform="translate(406.37,354.30) rotate(-90)" font-size="4.7" font-family="Liberation Sans, sans-serif" text-anchor="end" fill="#333" font-weight="normal" >3654.44 cm-1</text>
<line x1="456.98" y1="320.80" x2="456.98" y2="325.80" stroke="#222" stroke-width="0.7" />
<text transform="translate(458.58,326.10) rotate(-90)" font-size="4.7" font-family="Liberation Sans, sans-serif" text-anchor="end" fill="#333" font-weight="normal" >3170.4 cm-1</text>
<line x1="477.78" y1="442.50" x2="477.78" y2="447.50" stroke="#222" stroke-width="0.7" />
<text transform="translate(479.38,447.80) rotate(-90)" font-size="4.7" font-family="Liberation Sans, sans-serif" text-anchor="end" fill="#333" font-weight="normal" >2977.55 cm-1</text>
<line x1="487.14" y1="369.00" x2="487.14" y2="374.00" stroke="#222" stroke-width="0.7" />
<text transform="translate(488.74,374.30) rotate(-90)" font-size="4.7" font-family="Liberation Sans, sans-serif" text-anchor="end" fill="#333" font-weight="normal" >2890.81 cm-1</text>
<line x1="551.00" y1="330.00" x2="551.00" y2="335.00" stroke="#222" stroke-width="0.7" />
<text transform="translate(552.60,335.30) rotate(-90)" font-size="4.7" font-family="Liberation Sans, sans-serif" text-anchor="end" fill="#333" font-weight="normal" >2298.73 cm-1</text>
<line x1="555.99" y1="344.00" x2="555.99" y2="349.00" stroke="#222" stroke-width="0.7" />
<text transform="translate(557.59,349.30) rotate(-90)" font-size="4.7" font-family="Liberation Sans, sans-serif" text-anchor="end" fill="#333" font-weight="normal" >2252.45 cm-1</text>
<line x1="577.62" y1="319.00" x2="577.62" y2="324.00" stroke="#222" stroke-width="0.7" />
<text transform="translate(579.22,324.30) rotate(-90)" font-size="4.7" font-family="Liberation Sans, sans-serif" text-anchor="end" fill="#333" font-weight="normal" >2051.89 cm-1</text>
<line x1="582.51" y1="319.00" x2="582.51" y2="324.00" stroke="#222" stroke-width="0.7" />
<text transform="translate(584.11,324.30) rotate(-90)" font-size="4.7" font-family="Liberation Sans, sans-serif" text-anchor="end" fill="#333" font-weight="normal" >2006.61 cm-1</text>
<line x1="611.94" y1="429.00" x2="611.94" y2="434.00" stroke="#222" stroke-width="0.7" />
<text transform="translate(613.54,434.30) rotate(-90)" font-size="4.7" font-family="Liberation Sans, sans-serif" text-anchor="end" fill="#333" font-weight="normal" >1733.69 cm-1</text>
<line x1="622.45" y1="329.00" x2="622.45" y2="334.00" stroke="#222" stroke-width="0.7" />
<text transform="translate(624.05,334.30) rotate(-90)" font-size="4.7" font-family="Liberation Sans, sans-serif" text-anchor="end" fill="#333" font-weight="normal" >1636.3 cm-1</text>
<line x1="642.94" y1="354.00" x2="642.94" y2="359.00" stroke="#222" stroke-width="0.7" />
<text transform="translate(644.54,359.30) rotate(-90)" font-size="4.7" font-family="Liberation Sans, sans-serif" text-anchor="end" fill="#333" font-weight="normal" >1446.36 cm-1</text>
<line x1="650.10" y1="393.50" x2="650.10" y2="398.50" stroke="#222" stroke-width="0.7" />
<text transform="translate(651.70,398.80) rotate(-90)" font-size="4.7" font-family="Liberation Sans, sans-serif" text-anchor="end" fill="#333" font-weight="normal" >1379.93 cm-1</text>
<line x1="664.67" y1="441.00" x2="664.67" y2="446.00" stroke="#222" stroke-width="0.7" />
<text transform="translate(666.27,446.30) rotate(-90)" font-size="4.7" font-family="Liberation Sans, sans-serif" text-anchor="end" fill="#333" font-weight="normal" >1244.83 cm-1</text>
<line x1="674.45" y1="344.50" x2="674.45" y2="349.50" stroke="#222" stroke-width="0.7" />
<text transform="translate(676.05,349.80) rotate(-90)" font-size="4.7" font-family="Liberation Sans, sans-serif" text-anchor="end" fill="#333" font-weight="normal" >1154.19 cm-1</text>
<line x1="686.20" y1="388.30" x2="686.20" y2="393.30" stroke="#222" stroke-width="0.7" />
<text transform="translate(687.80,393.60) rotate(-90)" font-size="4.7" font-family="Liberation Sans, sans-serif" text-anchor="end" fill="#333" font-weight="normal" >1045.23 cm-1</text>
<line x1="696.71" y1="339.00" x2="696.71" y2="344.00" stroke="#222" stroke-width="0.7" />
<text transform="translate(698.31,344.30) rotate(-90)" font-size="4.7" font-family="Liberation Sans, sans-serif" text-anchor="end" fill="#333" font-weight="normal" >947.842 cm-1</text>
<line x1="707.63" y1="326.10" x2="707.63" y2="331.10" stroke="#222" stroke-width="0.7" />
<text transform="translate(709.23,331.40) rotate(-90)" font-size="4.7" font-family="Liberation Sans, sans-serif" text-anchor="end" fill="#333" font-weight="normal" >846.597 cm-1</text>
<line x1="718.23" y1="325.10" x2="718.23" y2="330.10" stroke="#222" stroke-width="0.7" />
<text transform="translate(719.83,330.40) rotate(-90)" font-size="4.7" font-family="Liberation Sans, sans-serif" text-anchor="end" fill="#333" font-weight="normal" >748.245 cm-1</text>
<line x1="732.79" y1="327.10" x2="732.79" y2="332.10" stroke="#222" stroke-width="0.7" />
<text transform="translate(734.39,332.40) rotate(-90)" font-size="4.7" font-family="Liberation Sans, sans-serif" text-anchor="end" fill="#333" font-weight="normal" >613.252 cm-1</text>
<line x1="744.44" y1="327.10" x2="744.44" y2="332.10" stroke="#222" stroke-width="0.7" />
<text transform="translate(746.04,332.40) rotate(-90)" font-size="4.7" font-family="Liberation Sans, sans-serif" text-anchor="end" fill="#333" font-weight="normal" >505.258 cm-1</text>
<line x1="751.20" y1="330.30" x2="751.20" y2="335.30" stroke="#222" stroke-width="0.7" />
<text transform="translate(752.80,335.60) rotate(-90)" font-size="4.7" font-family="Liberation Sans, sans-serif" text-anchor="end" fill="#333" font-weight="normal" >442.583 cm-1</text>
<line x1="754.74" y1="324.50" x2="754.74" y2="329.50" stroke="#222" stroke-width="0.7" />
<text transform="translate(756.34,329.80) rotate(-90)" font-size="4.7" font-family="Liberation Sans, sans-serif" text-anchor="end" fill="#333" font-weight="normal" >409.796 cm-1</text>
<text transform="translate(353.50,447.20) rotate(-90)" font-size="19.2" font-family="Liberation Serif, serif" text-anchor="start" fill="#000" font-weight="normal" textLength="117.6" lengthAdjust="spacingAndGlyphs" >% Transmittance</text>
<text x="471.00" y="515.20" font-size="18" font-family="Liberation Serif, serif" text-anchor="start" fill="#000" font-weight="normal" textLength="148.5" lengthAdjust="spacingAndGlyphs">Wave number (cm-1)</text>
<text x="363.70" y="270.00" font-size="19.2" font-family="Liberation Sans, sans-serif" text-anchor="start" fill="#000" font-weight="bold" >d</text>
</svg>
</body></html>
